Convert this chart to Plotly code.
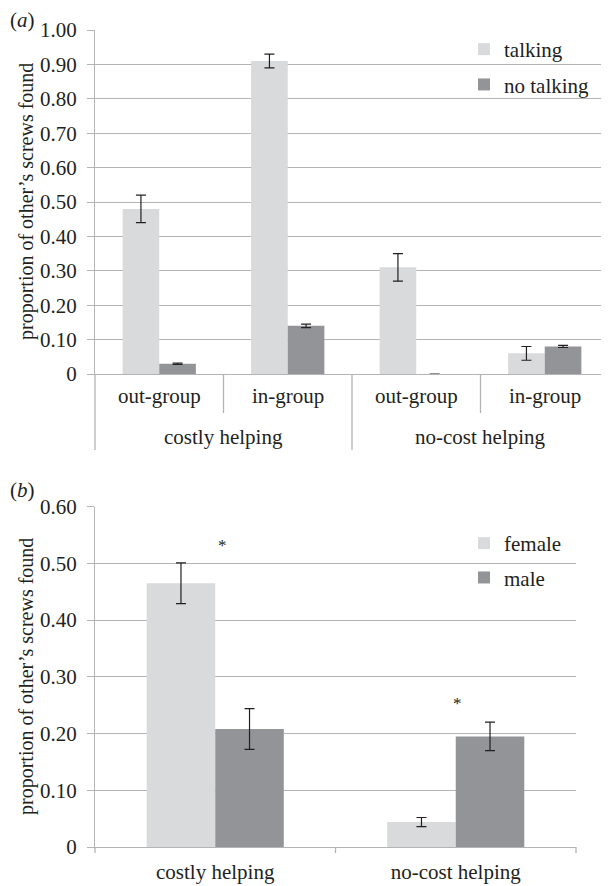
import plotly.graph_objects as go

# ---------------- data ----------------
# panel (a)
a_sub_labels = ["out-group", "in-group", "out-group", "in-group"]
a_group_labels = ["costly helping", "no-cost helping"]
a_talking = [0.48, 0.91, 0.31, 0.06]
a_talking_err = [0.04, 0.02, 0.04, 0.02]
a_notalking = [0.03, 0.14, 0.0, 0.08]
a_notalking_err = [0.002, 0.005, 0.0, 0.003]
a_tickvals = [0, 0.1, 0.2, 0.3, 0.4, 0.5, 0.6, 0.7, 0.8, 0.9, 1.0]
a_ticktext = ["0", "0.10", "0.20", "0.30", "0.40", "0.50", "0.60", "0.70", "0.80", "0.90", "1.00"]

# panel (b)
b_labels = ["costly helping", "no-cost helping"]
b_female = [0.465, 0.044]
b_female_err = [0.036, 0.008]
b_male = [0.208, 0.195]
b_male_err = [0.036, 0.025]
b_sig_y = [0.532, 0.253]
b_tickvals = [0, 0.1, 0.2, 0.3, 0.4, 0.5, 0.6]
b_ticktext = ["0", "0.10", "0.20", "0.30", "0.40", "0.50", "0.60"]

# ---------------- style ----------------
OFF = 8                      # page body margin
W, H = 609 - OFF, 886 - OFF  # figure fits the window exactly
LIGHT = "#d9dadc"
DARK = "#939497"
TXT = "#231f20"
GRID = "#b4b4b4"
FONT = "Liberation Serif, Times New Roman, serif"
FS = 21


def py(px):
    """window pixel (from top) -> paper y"""
    return 1 - (px - OFF) / H


def pxx(px):
    """window pixel (from left) -> paper x"""
    return (px - OFF) / W


def fnt(size=FS):
    return dict(family=FONT, size=size, color=TXT)


a_dom_x = [pxx(95), 1.0]
a_dom_y = [py(374), py(30)]
b_dom_x = [pxx(95), pxx(576)]
b_dom_y = [py(847), py(506.7)]

a_x = list(range(len(a_sub_labels)))
b_x = list(range(len(b_labels)))

err_style = dict(type="data", color=TXT, thickness=1.2, width=5, visible=True)

fig = go.Figure()
fig.add_trace(go.Bar(x=a_x, y=a_talking, name="talking", marker=dict(color=LIGHT, line=dict(width=0)),
                     error_y=dict(array=a_talking_err, **err_style), xaxis="x", yaxis="y",
                     legend="legend", legendgroup="t"))
fig.add_trace(go.Bar(x=a_x, y=a_notalking, name="no talking", marker=dict(color=DARK, line=dict(width=0)),
                     error_y=dict(array=a_notalking_err, **err_style), xaxis="x", yaxis="y",
                     legend="legend", legendgroup="n"))
fig.add_trace(go.Bar(x=b_x, y=b_female, name="female", marker=dict(color=LIGHT, line=dict(width=0)),
                     error_y=dict(array=b_female_err, **err_style), xaxis="x2", yaxis="y2",
                     legend="legend2", legendgroup="f"))
fig.add_trace(go.Bar(x=b_x, y=b_male, name="male", marker=dict(color=DARK, line=dict(width=0)),
                     error_y=dict(array=b_male_err, **err_style), xaxis="x2", yaxis="y2",
                     legend="legend2", legendgroup="m"))

yax_common = dict(showgrid=True, gridcolor=GRID, gridwidth=1.3, showline=True, linecolor=GRID, linewidth=1.3,
                  ticks="outside", ticklen=7, tickcolor=GRID, tickwidth=1.3, zeroline=False,
                  tickfont=fnt(), ticklabelstandoff=6, automargin=False)

annotations = []
shapes = []

annotations.append(dict(text="(<i>a</i>)", x=pxx(8), y=py(20.5), xref="paper", yref="paper", showarrow=False,
                        xanchor="left", yanchor="middle", font=fnt()))
annotations.append(dict(text="(<i>b</i>)", x=pxx(8), y=py(490), xref="paper", yref="paper", showarrow=False,
                        xanchor="left", yanchor="middle", font=fnt()))
for i, s in enumerate(a_sub_labels):
    annotations.append(dict(text=s, x=a_x[i], y=py(396), xref="x", yref="paper", showarrow=False,
                            xanchor="center", yanchor="middle", font=fnt()))
for i, g in enumerate(a_group_labels):
    annotations.append(dict(text=g, x=2 * i + 0.5, y=py(437), xref="x", yref="paper", showarrow=False,
                            xanchor="center", yanchor="middle", font=fnt()))
for yc in [202, 677]:
    annotations.append(dict(text="proportion of other’s screws found", x=pxx(26), y=py(yc), xref="paper",
                            yref="paper", showarrow=False, textangle=-90, xanchor="center", yanchor="middle",
                            font=fnt(20)))
sig_shift = [7, 2]
for i, s in enumerate(b_sig_y):
    annotations.append(dict(text="*", x=b_x[i], y=s, xref="x2", yref="y2", showarrow=False, xshift=sig_shift[i],
                            xanchor="center", yanchor="middle", font=fnt(17)))

# dividers panel (a)
n_a = len(a_sub_labels)
for i in range(n_a + 1):
    long = (i % 2 == 0)
    shapes.append(dict(type="line", xref="x domain", yref="paper", x0=i / n_a, x1=i / n_a,
                       y0=py(374), y1=py(450 if long else 413), line=dict(color=GRID, width=1.3)))
# boundary ticks panel (b)
n_b = len(b_labels)
for i in range(n_b + 1):
    shapes.append(dict(type="line", xref="x2 domain", yref="paper", x0=i / n_b, x1=i / n_b,
                       y0=py(847), y1=py(853), line=dict(color=GRID, width=1.3)))

fig.update_layout(
    template="none",
    width=W, height=H, margin=dict(l=0, r=0, t=0, b=0, autoexpand=False),
    paper_bgcolor="white", plot_bgcolor="white",
    barmode="group", bargap=0.43, bargroupgap=0,
    font=fnt(),
    xaxis=dict(domain=a_dom_x, anchor="y", range=[-0.5, n_a - 0.5], tickvals=a_x, showticklabels=False,
               showgrid=False, zeroline=False, showline=True, linecolor=GRID, linewidth=1.3, ticks="",
               automargin=False),
    yaxis=dict(domain=a_dom_y, anchor="x", range=[0, 1.0], tickvals=a_tickvals, ticktext=a_ticktext, **yax_common),
    xaxis2=dict(domain=b_dom_x, anchor="y2", range=[-0.5, n_b - 0.5], tickvals=b_x, ticktext=b_labels,
                showgrid=False, zeroline=False, showline=True, linecolor=GRID, linewidth=1.3, ticks="",
                tickfont=fnt(), ticklabelstandoff=6, automargin=False),
    yaxis2=dict(domain=b_dom_y, anchor="x2", range=[0, 0.6], tickvals=b_tickvals, ticktext=b_ticktext, **yax_common),
    legend=dict(x=pxx(464), y=py(29), xanchor="left", yanchor="top", bgcolor="rgba(0,0,0,0)",
                font=fnt(), tracegroupgap=5, itemwidth=30),
    legend2=dict(x=pxx(464), y=py(523), xanchor="left", yanchor="top", bgcolor="rgba(0,0,0,0)",
                 font=fnt(), tracegroupgap=4, itemwidth=30),
    annotations=annotations, shapes=shapes,
)

fig.write_html("out.html")
